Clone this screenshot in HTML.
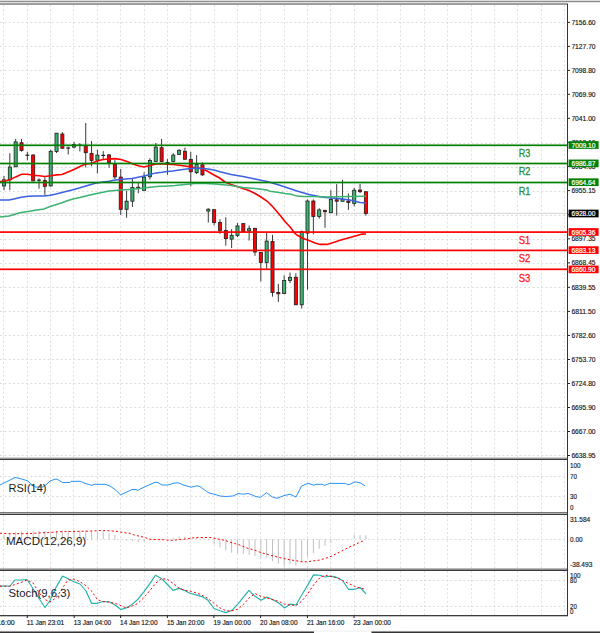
<!DOCTYPE html><html><head><meta charset="utf-8"><style>html,body{margin:0;padding:0;background:#fff;overflow:hidden}svg{display:block}text{font-family:"Liberation Sans", sans-serif}</style></head><body>
<svg width="600" height="633" viewBox="0 0 600 633">
<rect x="0" y="0" width="600" height="633" fill="#ffffff"/>
<rect x="0" y="0" width="600" height="1" fill="#dedede"/>
<rect x="0" y="1" width="600" height="1" fill="#8c8c8c"/>
<rect x="0" y="2" width="600" height="1" fill="#e4e4e4"/>
<rect x="0" y="3" width="568" height="2" fill="#9e9e9e"/>
<path d="M3.50 5.0V457.0 M3.50 460.0V512.0 M3.50 515.0V568.0 M3.50 571.0V615.0 M27.50 5.0V457.0 M27.50 460.0V512.0 M27.50 515.0V568.0 M27.50 571.0V615.0 M50.50 5.0V457.0 M50.50 460.0V512.0 M50.50 515.0V568.0 M50.50 571.0V615.0 M73.50 5.0V457.0 M73.50 460.0V512.0 M73.50 515.0V568.0 M73.50 571.0V615.0 M97.50 5.0V457.0 M97.50 460.0V512.0 M97.50 515.0V568.0 M97.50 571.0V615.0 M120.50 5.0V457.0 M120.50 460.0V512.0 M120.50 515.0V568.0 M120.50 571.0V615.0 M144.50 5.0V457.0 M144.50 460.0V512.0 M144.50 515.0V568.0 M144.50 571.0V615.0 M167.50 5.0V457.0 M167.50 460.0V512.0 M167.50 515.0V568.0 M167.50 571.0V615.0 M190.50 5.0V457.0 M190.50 460.0V512.0 M190.50 515.0V568.0 M190.50 571.0V615.0 M214.50 5.0V457.0 M214.50 460.0V512.0 M214.50 515.0V568.0 M214.50 571.0V615.0 M237.50 5.0V457.0 M237.50 460.0V512.0 M237.50 515.0V568.0 M237.50 571.0V615.0 M260.50 5.0V457.0 M260.50 460.0V512.0 M260.50 515.0V568.0 M260.50 571.0V615.0 M284.50 5.0V457.0 M284.50 460.0V512.0 M284.50 515.0V568.0 M284.50 571.0V615.0 M307.50 5.0V457.0 M307.50 460.0V512.0 M307.50 515.0V568.0 M307.50 571.0V615.0 M330.50 5.0V457.0 M330.50 460.0V512.0 M330.50 515.0V568.0 M330.50 571.0V615.0 M354.50 5.0V457.0 M354.50 460.0V512.0 M354.50 515.0V568.0 M354.50 571.0V615.0 M377.50 5.0V457.0 M377.50 460.0V512.0 M377.50 515.0V568.0 M377.50 571.0V615.0 M400.50 5.0V457.0 M400.50 460.0V512.0 M400.50 515.0V568.0 M400.50 571.0V615.0 M424.50 5.0V457.0 M424.50 460.0V512.0 M424.50 515.0V568.0 M424.50 571.0V615.0 M447.50 5.0V457.0 M447.50 460.0V512.0 M447.50 515.0V568.0 M447.50 571.0V615.0 M471.50 5.0V457.0 M471.50 460.0V512.0 M471.50 515.0V568.0 M471.50 571.0V615.0 M494.50 5.0V457.0 M494.50 460.0V512.0 M494.50 515.0V568.0 M494.50 571.0V615.0 M517.50 5.0V457.0 M517.50 460.0V512.0 M517.50 515.0V568.0 M517.50 571.0V615.0 M541.50 5.0V457.0 M541.50 460.0V512.0 M541.50 515.0V568.0 M541.50 571.0V615.0 M564.50 5.0V457.0 M564.50 460.0V512.0 M564.50 515.0V568.0 M564.50 571.0V615.0" stroke="#e0e0e0" stroke-width="1" stroke-dasharray="2 2.25" fill="none"/>
<path d="M0 22.50H567 M0 46.50H567 M0 70.50H567 M0 94.50H567 M0 118.50H567 M0 143.50H567 M0 167.50H567 M0 191.50H567 M0 215.50H567 M0 239.50H567 M0 263.50H567 M0 287.50H567 M0 311.50H567 M0 335.50H567 M0 359.50H567 M0 383.50H567 M0 407.50H567 M0 431.50H567 M0 455.50H567 M0 476.50H567 M0 496.50H567 M0 539.50H567 M0 580.50H567 M0 606.50H567" stroke="#dcdcdc" stroke-width="1" stroke-dasharray="2 2.33" fill="none"/>
<rect x="0" y="212.8" width="567" height="1.1" fill="#d8d8d8"/>
<line x1="4.00" y1="176.00" x2="4.00" y2="190.20" stroke="#3a3a3a" stroke-width="1"/>
<rect x="2.45" y="179.80" width="3.1" height="6.20" fill="#3cb371" stroke="#1e1e1e" stroke-width="0.8"/>
<line x1="9.84" y1="153.30" x2="9.84" y2="190.20" stroke="#3a3a3a" stroke-width="1"/>
<rect x="8.29" y="167.00" width="3.1" height="12.80" fill="#3cb371" stroke="#1e1e1e" stroke-width="0.8"/>
<line x1="15.67" y1="138.90" x2="15.67" y2="167.00" stroke="#3a3a3a" stroke-width="1"/>
<rect x="14.12" y="141.90" width="3.1" height="24.90" fill="#3cb371" stroke="#1e1e1e" stroke-width="0.8"/>
<line x1="21.51" y1="138.90" x2="21.51" y2="151.60" stroke="#3a3a3a" stroke-width="1"/>
<rect x="19.96" y="142.70" width="3.1" height="7.80" fill="#ff0000" stroke="#1e1e1e" stroke-width="0.8"/>
<line x1="27.35" y1="151.80" x2="27.35" y2="160.40" stroke="#3a3a3a" stroke-width="1"/>
<line x1="25.45" y1="155.20" x2="29.25" y2="155.20" stroke="#1a1a1a" stroke-width="1.2"/>
<line x1="33.19" y1="154.40" x2="33.19" y2="181.20" stroke="#3a3a3a" stroke-width="1"/>
<rect x="31.64" y="155.00" width="3.1" height="25.90" fill="#ff0000" stroke="#1e1e1e" stroke-width="0.8"/>
<line x1="39.02" y1="178.30" x2="39.02" y2="188.70" stroke="#3a3a3a" stroke-width="1"/>
<line x1="37.12" y1="180.20" x2="40.92" y2="180.20" stroke="#1a1a1a" stroke-width="1.2"/>
<line x1="44.86" y1="177.30" x2="44.86" y2="194.90" stroke="#3a3a3a" stroke-width="1"/>
<rect x="43.31" y="180.60" width="3.1" height="5.70" fill="#ff0000" stroke="#1e1e1e" stroke-width="0.8"/>
<line x1="50.70" y1="149.80" x2="50.70" y2="186.50" stroke="#3a3a3a" stroke-width="1"/>
<rect x="49.15" y="151.30" width="3.1" height="34.60" fill="#3cb371" stroke="#1e1e1e" stroke-width="0.8"/>
<line x1="56.53" y1="133.00" x2="56.53" y2="153.00" stroke="#3a3a3a" stroke-width="1"/>
<rect x="54.98" y="133.20" width="3.1" height="18.30" fill="#3cb371" stroke="#1e1e1e" stroke-width="0.8"/>
<line x1="62.37" y1="132.10" x2="62.37" y2="148.50" stroke="#3a3a3a" stroke-width="1"/>
<rect x="60.82" y="134.00" width="3.1" height="14.30" fill="#ff0000" stroke="#1e1e1e" stroke-width="0.8"/>
<line x1="68.21" y1="146.60" x2="68.21" y2="154.50" stroke="#3a3a3a" stroke-width="1"/>
<line x1="66.31" y1="148.00" x2="70.11" y2="148.00" stroke="#1a1a1a" stroke-width="1.2"/>
<line x1="74.04" y1="142.00" x2="74.04" y2="148.50" stroke="#3a3a3a" stroke-width="1"/>
<rect x="72.49" y="144.60" width="3.1" height="2.50" fill="#3cb371" stroke="#1e1e1e" stroke-width="0.8"/>
<line x1="79.88" y1="143.20" x2="79.88" y2="151.50" stroke="#3a3a3a" stroke-width="1"/>
<line x1="77.98" y1="145.20" x2="81.78" y2="145.20" stroke="#1a1a1a" stroke-width="1.2"/>
<line x1="85.72" y1="123.00" x2="85.72" y2="167.40" stroke="#3a3a3a" stroke-width="1"/>
<rect x="84.17" y="145.80" width="3.1" height="6.90" fill="#ff0000" stroke="#1e1e1e" stroke-width="0.8"/>
<line x1="91.55" y1="141.10" x2="91.55" y2="166.30" stroke="#3a3a3a" stroke-width="1"/>
<rect x="90.00" y="153.50" width="3.1" height="6.90" fill="#ff0000" stroke="#1e1e1e" stroke-width="0.8"/>
<line x1="97.39" y1="149.70" x2="97.39" y2="173.40" stroke="#3a3a3a" stroke-width="1"/>
<rect x="95.84" y="155.10" width="3.1" height="5.00" fill="#3cb371" stroke="#1e1e1e" stroke-width="0.8"/>
<line x1="103.23" y1="151.10" x2="103.23" y2="159.20" stroke="#3a3a3a" stroke-width="1"/>
<line x1="101.33" y1="155.40" x2="105.13" y2="155.40" stroke="#1a1a1a" stroke-width="1.2"/>
<line x1="109.07" y1="154.00" x2="109.07" y2="167.70" stroke="#3a3a3a" stroke-width="1"/>
<rect x="107.52" y="154.90" width="3.1" height="7.60" fill="#ff0000" stroke="#1e1e1e" stroke-width="0.8"/>
<line x1="114.90" y1="160.10" x2="114.90" y2="179.10" stroke="#3a3a3a" stroke-width="1"/>
<rect x="113.35" y="163.90" width="3.1" height="13.00" fill="#ff0000" stroke="#1e1e1e" stroke-width="0.8"/>
<line x1="120.74" y1="169.00" x2="120.74" y2="215.00" stroke="#3a3a3a" stroke-width="1"/>
<rect x="119.19" y="177.10" width="3.1" height="32.20" fill="#ff0000" stroke="#1e1e1e" stroke-width="0.8"/>
<line x1="126.58" y1="190.80" x2="126.58" y2="217.80" stroke="#3a3a3a" stroke-width="1"/>
<rect x="125.03" y="201.20" width="3.1" height="8.10" fill="#3cb371" stroke="#1e1e1e" stroke-width="0.8"/>
<line x1="132.41" y1="179.00" x2="132.41" y2="207.00" stroke="#3a3a3a" stroke-width="1"/>
<rect x="130.86" y="187.50" width="3.1" height="13.70" fill="#3cb371" stroke="#1e1e1e" stroke-width="0.8"/>
<line x1="138.25" y1="182.70" x2="138.25" y2="193.20" stroke="#3a3a3a" stroke-width="1"/>
<rect x="136.70" y="187.20" width="3.1" height="1.20" fill="#ff0000" stroke="#1e1e1e" stroke-width="0.8"/>
<line x1="144.09" y1="172.30" x2="144.09" y2="190.50" stroke="#3a3a3a" stroke-width="1"/>
<rect x="142.54" y="177.10" width="3.1" height="13.20" fill="#3cb371" stroke="#1e1e1e" stroke-width="0.8"/>
<line x1="149.92" y1="158.20" x2="149.92" y2="179.60" stroke="#3a3a3a" stroke-width="1"/>
<rect x="148.37" y="160.50" width="3.1" height="16.30" fill="#3cb371" stroke="#1e1e1e" stroke-width="0.8"/>
<line x1="155.76" y1="143.00" x2="155.76" y2="161.50" stroke="#3a3a3a" stroke-width="1"/>
<rect x="154.21" y="147.10" width="3.1" height="14.40" fill="#3cb371" stroke="#1e1e1e" stroke-width="0.8"/>
<line x1="161.60" y1="139.00" x2="161.60" y2="161.50" stroke="#3a3a3a" stroke-width="1"/>
<rect x="160.05" y="147.70" width="3.1" height="13.80" fill="#ff0000" stroke="#1e1e1e" stroke-width="0.8"/>
<line x1="167.44" y1="159.10" x2="167.44" y2="174.80" stroke="#3a3a3a" stroke-width="1"/>
<line x1="165.54" y1="162.70" x2="169.34" y2="162.70" stroke="#1a1a1a" stroke-width="1.2"/>
<line x1="173.27" y1="153.20" x2="173.27" y2="162.40" stroke="#3a3a3a" stroke-width="1"/>
<rect x="171.72" y="155.10" width="3.1" height="6.40" fill="#3cb371" stroke="#1e1e1e" stroke-width="0.8"/>
<line x1="179.11" y1="149.20" x2="179.11" y2="155.10" stroke="#3a3a3a" stroke-width="1"/>
<rect x="177.56" y="150.30" width="3.1" height="4.00" fill="#3cb371" stroke="#1e1e1e" stroke-width="0.8"/>
<line x1="184.95" y1="147.60" x2="184.95" y2="159.30" stroke="#3a3a3a" stroke-width="1"/>
<rect x="183.40" y="151.30" width="3.1" height="8.00" fill="#ff0000" stroke="#1e1e1e" stroke-width="0.8"/>
<line x1="190.78" y1="151.80" x2="190.78" y2="186.40" stroke="#3a3a3a" stroke-width="1"/>
<rect x="189.23" y="159.40" width="3.1" height="12.40" fill="#ff0000" stroke="#1e1e1e" stroke-width="0.8"/>
<line x1="196.62" y1="155.20" x2="196.62" y2="174.10" stroke="#3a3a3a" stroke-width="1"/>
<rect x="195.07" y="164.60" width="3.1" height="8.10" fill="#3cb371" stroke="#1e1e1e" stroke-width="0.8"/>
<line x1="202.46" y1="162.30" x2="202.46" y2="175.80" stroke="#3a3a3a" stroke-width="1"/>
<rect x="200.91" y="164.80" width="3.1" height="10.10" fill="#ff0000" stroke="#1e1e1e" stroke-width="0.8"/>
<line x1="208.29" y1="208.30" x2="208.29" y2="222.50" stroke="#3a3a3a" stroke-width="1"/>
<rect x="206.74" y="209.20" width="3.1" height="1.90" fill="#3cb371" stroke="#1e1e1e" stroke-width="0.8"/>
<line x1="214.13" y1="209.50" x2="214.13" y2="225.30" stroke="#3a3a3a" stroke-width="1"/>
<rect x="212.58" y="209.70" width="3.1" height="12.80" fill="#ff0000" stroke="#1e1e1e" stroke-width="0.8"/>
<line x1="219.97" y1="219.20" x2="219.97" y2="233.90" stroke="#3a3a3a" stroke-width="1"/>
<rect x="218.42" y="222.50" width="3.1" height="8.00" fill="#ff0000" stroke="#1e1e1e" stroke-width="0.8"/>
<line x1="225.81" y1="217.30" x2="225.81" y2="245.70" stroke="#3a3a3a" stroke-width="1"/>
<rect x="224.26" y="230.50" width="3.1" height="8.10" fill="#ff0000" stroke="#1e1e1e" stroke-width="0.8"/>
<line x1="231.64" y1="229.10" x2="231.64" y2="248.10" stroke="#3a3a3a" stroke-width="1"/>
<rect x="230.09" y="235.30" width="3.1" height="3.80" fill="#3cb371" stroke="#1e1e1e" stroke-width="0.8"/>
<line x1="237.48" y1="223.00" x2="237.48" y2="237.10" stroke="#3a3a3a" stroke-width="1"/>
<rect x="235.93" y="225.90" width="3.1" height="9.70" fill="#3cb371" stroke="#1e1e1e" stroke-width="0.8"/>
<line x1="243.32" y1="223.50" x2="243.32" y2="231.70" stroke="#3a3a3a" stroke-width="1"/>
<rect x="241.77" y="223.60" width="3.1" height="8.00" fill="#ff0000" stroke="#1e1e1e" stroke-width="0.8"/>
<line x1="249.15" y1="225.40" x2="249.15" y2="240.60" stroke="#3a3a3a" stroke-width="1"/>
<rect x="247.60" y="228.70" width="3.1" height="2.20" fill="#3cb371" stroke="#1e1e1e" stroke-width="0.8"/>
<line x1="254.99" y1="228.00" x2="254.99" y2="255.80" stroke="#3a3a3a" stroke-width="1"/>
<rect x="253.44" y="228.30" width="3.1" height="23.70" fill="#ff0000" stroke="#1e1e1e" stroke-width="0.8"/>
<line x1="260.83" y1="252.30" x2="260.83" y2="281.50" stroke="#3a3a3a" stroke-width="1"/>
<rect x="259.28" y="252.40" width="3.1" height="10.10" fill="#ff0000" stroke="#1e1e1e" stroke-width="0.8"/>
<line x1="266.66" y1="232.50" x2="266.66" y2="268.60" stroke="#3a3a3a" stroke-width="1"/>
<rect x="265.11" y="241.10" width="3.1" height="21.40" fill="#3cb371" stroke="#1e1e1e" stroke-width="0.8"/>
<line x1="272.50" y1="234.90" x2="272.50" y2="296.70" stroke="#3a3a3a" stroke-width="1"/>
<rect x="270.95" y="241.50" width="3.1" height="50.90" fill="#ff0000" stroke="#1e1e1e" stroke-width="0.8"/>
<line x1="278.34" y1="283.90" x2="278.34" y2="301.90" stroke="#3a3a3a" stroke-width="1"/>
<rect x="276.79" y="292.40" width="3.1" height="1.40" fill="#ff0000" stroke="#1e1e1e" stroke-width="0.8"/>
<line x1="284.18" y1="275.30" x2="284.18" y2="293.80" stroke="#3a3a3a" stroke-width="1"/>
<rect x="282.63" y="280.50" width="3.1" height="13.10" fill="#3cb371" stroke="#1e1e1e" stroke-width="0.8"/>
<line x1="290.01" y1="272.50" x2="290.01" y2="283.00" stroke="#3a3a3a" stroke-width="1"/>
<rect x="288.46" y="277.30" width="3.1" height="3.30" fill="#3cb371" stroke="#1e1e1e" stroke-width="0.8"/>
<line x1="295.85" y1="273.30" x2="295.85" y2="304.80" stroke="#3a3a3a" stroke-width="1"/>
<rect x="294.30" y="277.30" width="3.1" height="27.50" fill="#ff0000" stroke="#1e1e1e" stroke-width="0.8"/>
<line x1="301.69" y1="230.50" x2="301.69" y2="308.60" stroke="#3a3a3a" stroke-width="1"/>
<rect x="300.14" y="231.80" width="3.1" height="73.00" fill="#3cb371" stroke="#1e1e1e" stroke-width="0.8"/>
<line x1="307.52" y1="199.40" x2="307.52" y2="289.60" stroke="#3a3a3a" stroke-width="1"/>
<rect x="305.97" y="201.00" width="3.1" height="32.10" fill="#3cb371" stroke="#1e1e1e" stroke-width="0.8"/>
<line x1="313.36" y1="199.40" x2="313.36" y2="234.20" stroke="#3a3a3a" stroke-width="1"/>
<rect x="311.81" y="201.00" width="3.1" height="15.50" fill="#ff0000" stroke="#1e1e1e" stroke-width="0.8"/>
<line x1="319.20" y1="208.20" x2="319.20" y2="218.70" stroke="#3a3a3a" stroke-width="1"/>
<rect x="317.65" y="209.90" width="3.1" height="6.60" fill="#3cb371" stroke="#1e1e1e" stroke-width="0.8"/>
<line x1="325.03" y1="209.90" x2="325.03" y2="227.80" stroke="#3a3a3a" stroke-width="1"/>
<rect x="323.48" y="210.30" width="3.1" height="1.40" fill="#ff0000" stroke="#1e1e1e" stroke-width="0.8"/>
<line x1="330.87" y1="190.20" x2="330.87" y2="212.70" stroke="#3a3a3a" stroke-width="1"/>
<rect x="329.32" y="199.40" width="3.1" height="13.30" fill="#3cb371" stroke="#1e1e1e" stroke-width="0.8"/>
<line x1="336.71" y1="184.10" x2="336.71" y2="215.60" stroke="#3a3a3a" stroke-width="1"/>
<rect x="335.16" y="199.80" width="3.1" height="1.40" fill="#ff0000" stroke="#1e1e1e" stroke-width="0.8"/>
<line x1="342.55" y1="179.80" x2="342.55" y2="201.40" stroke="#3a3a3a" stroke-width="1"/>
<rect x="341.00" y="199.30" width="3.1" height="2.00" fill="#3cb371" stroke="#1e1e1e" stroke-width="0.8"/>
<line x1="348.38" y1="193.50" x2="348.38" y2="209.90" stroke="#3a3a3a" stroke-width="1"/>
<rect x="346.83" y="201.00" width="3.1" height="1.50" fill="#ff0000" stroke="#1e1e1e" stroke-width="0.8"/>
<line x1="354.22" y1="187.80" x2="354.22" y2="206.30" stroke="#3a3a3a" stroke-width="1"/>
<rect x="352.67" y="190.20" width="3.1" height="13.20" fill="#3cb371" stroke="#1e1e1e" stroke-width="0.8"/>
<line x1="360.06" y1="183.90" x2="360.06" y2="193.10" stroke="#3a3a3a" stroke-width="1"/>
<rect x="358.51" y="190.00" width="3.1" height="1.70" fill="#ff0000" stroke="#1e1e1e" stroke-width="0.8"/>
<line x1="365.89" y1="191.50" x2="365.89" y2="215.60" stroke="#3a3a3a" stroke-width="1"/>
<rect x="364.34" y="191.70" width="3.1" height="21.70" fill="#ff0000" stroke="#1e1e1e" stroke-width="0.8"/>
<polyline points="0.00,181.50 4.00,181.30 9.80,179.80 15.70,176.90 21.50,174.30 27.30,174.20 33.20,175.20 39.00,175.80 44.90,176.50 50.70,175.80 56.50,174.90 62.00,174.50 68.00,172.00 74.00,169.50 80.00,166.50 85.00,164.20 91.00,163.40 97.00,161.00 103.00,159.50 109.00,159.00 115.00,158.60 121.00,159.50 127.00,161.50 133.00,164.00 139.00,166.00 144.00,167.00 150.00,165.50 156.00,164.00 162.00,163.60 167.00,164.10 173.00,164.50 179.00,165.20 185.00,166.00 191.00,167.00 197.00,168.00 202.00,168.60 208.00,171.50 214.00,175.00 220.00,178.30 225.00,182.00 231.00,184.50 237.00,186.50 243.00,188.50 249.00,190.50 255.00,193.50 261.00,197.00 267.00,201.00 273.00,207.00 279.00,214.00 285.00,221.50 291.00,228.00 294.00,232.50 297.00,235.00 303.00,238.50 309.00,240.50 315.00,243.00 320.00,244.40 327.00,244.40 335.00,242.00 340.00,240.20 350.00,237.50 357.00,235.50 362.00,234.10 366.00,234.00" fill="none" stroke="#ff0000" stroke-width="1.6" stroke-linejoin="miter"/>
<polyline points="0.00,200.00 9.00,200.00 15.00,198.80 21.00,197.20 28.00,196.20 35.00,196.00 44.00,196.00 50.00,195.20 55.00,194.20 62.00,192.50 68.00,191.00 74.00,189.50 80.00,187.80 85.00,186.20 91.00,184.50 97.00,182.90 103.00,182.00 109.00,181.20 115.00,180.10 120.00,179.50 132.00,178.40 144.00,176.00 150.00,174.50 156.00,172.90 162.00,172.30 167.00,171.50 173.00,171.00 179.00,170.00 185.00,169.20 191.00,168.50 197.00,168.00 202.00,168.40 208.00,169.00 214.00,170.00 220.00,171.70 231.00,174.50 243.00,176.50 255.00,179.00 267.00,181.50 273.00,183.30 279.00,185.00 285.00,187.00 291.00,189.00 297.00,191.00 303.00,192.80 309.00,194.50 314.00,195.50 320.00,196.80 326.00,197.60 340.00,198.70 350.00,200.10 360.00,202.40 366.00,202.90" fill="none" stroke="#3a62e0" stroke-width="1.5" stroke-linejoin="miter"/>
<polyline points="0.00,217.00 9.00,216.00 15.00,214.20 21.00,212.50 28.00,211.50 35.00,210.20 44.00,209.00 50.00,206.50 55.00,205.00 62.00,202.80 68.00,200.50 74.00,198.80 80.00,197.50 85.00,196.20 91.00,194.80 97.00,193.50 103.00,192.20 109.00,191.00 115.00,190.50 120.00,190.10 130.00,189.40 140.00,188.60 150.00,187.30 160.00,186.30 165.00,186.30 175.00,185.50 185.00,184.40 195.00,183.50 205.00,183.50 215.00,184.00 220.00,184.50 231.00,185.50 243.00,187.40 255.00,188.50 267.00,190.00 270.00,191.20 279.00,192.50 285.00,193.50 291.00,194.30 297.00,196.10 303.00,196.50 315.00,196.50 326.00,196.90 350.00,196.60 366.00,196.30" fill="none" stroke="#3cb371" stroke-width="1.5" stroke-linejoin="miter"/>
<rect x="0" y="144.45" width="567" height="1.7" fill="#008000"/>
<rect x="0" y="162.65" width="567" height="1.7" fill="#008000"/>
<rect x="0" y="181.65" width="567" height="1.7" fill="#008000"/>
<rect x="0" y="231.25" width="567" height="1.7" fill="#ff0000"/>
<rect x="0" y="249.55" width="567" height="1.7" fill="#ff0000"/>
<rect x="0" y="268.45" width="567" height="1.7" fill="#ff0000"/>
<text x="518.8" y="157.30" font-size="11" fill="#1f8f36" stroke="#1f8f36" stroke-width="0.3" textLength="11.6" lengthAdjust="spacingAndGlyphs">R3</text>
<text x="518.8" y="174.50" font-size="11" fill="#1f8f36" stroke="#1f8f36" stroke-width="0.3" textLength="11.6" lengthAdjust="spacingAndGlyphs">R2</text>
<text x="518.8" y="195.00" font-size="11" fill="#1f8f36" stroke="#1f8f36" stroke-width="0.3" textLength="11.6" lengthAdjust="spacingAndGlyphs">R1</text>
<text x="518.8" y="244.30" font-size="11" fill="#ff2020" stroke="#ff2020" stroke-width="0.3" textLength="11.6" lengthAdjust="spacingAndGlyphs">S1</text>
<text x="518.8" y="262.30" font-size="11" fill="#ff2020" stroke="#ff2020" stroke-width="0.3" textLength="11.6" lengthAdjust="spacingAndGlyphs">S2</text>
<text x="518.8" y="281.50" font-size="11" fill="#ff2020" stroke="#ff2020" stroke-width="0.3" textLength="11.6" lengthAdjust="spacingAndGlyphs">S3</text>
<rect x="0" y="457" width="568" height="1" fill="#d0d0d0"/>
<rect x="0" y="458" width="568" height="1" fill="#999999"/>
<rect x="0" y="459" width="568" height="1" fill="#3a3a3a"/>
<rect x="0" y="512" width="568" height="1" fill="#777777"/>
<rect x="0" y="513" width="568" height="1" fill="#b0b0b0"/>
<rect x="0" y="514" width="568" height="1" fill="#3a3a3a"/>
<rect x="0" y="568" width="568" height="1" fill="#bbbbbb"/>
<rect x="0" y="569" width="568" height="1" fill="#888888"/>
<rect x="0" y="570" width="568" height="1" fill="#3a3a3a"/>
<rect x="0" y="615" width="568" height="1.3" fill="#3c3c3c"/>
<rect x="567" y="4" width="1" height="612" fill="#333333"/>
<polyline points="0.00,485.00 5.00,482.50 10.00,480.00 15.00,477.50 18.00,478.00 25.00,480.00 28.00,481.00 31.00,484.00 35.00,487.00 43.00,487.00 47.00,484.00 50.00,481.00 55.00,479.20 57.00,479.20 62.50,482.50 70.00,482.50 71.00,481.30 80.50,481.30 85.00,483.40 92.00,485.40 94.00,484.30 105.00,484.30 110.00,486.00 115.00,489.50 120.50,494.80 126.00,492.40 132.00,489.50 136.00,489.50 137.50,490.40 144.00,487.20 148.00,485.40 155.00,482.30 158.00,482.50 162.00,485.00 168.00,485.00 173.00,483.40 178.00,482.70 183.00,484.80 191.00,487.20 197.00,485.80 200.00,486.60 204.00,489.50 209.00,493.00 215.00,494.40 220.00,496.00 226.00,496.50 233.00,496.00 238.00,493.60 244.00,494.20 248.00,493.40 252.00,494.80 255.00,496.30 260.50,497.40 266.50,492.70 272.50,497.10 277.00,498.30 284.00,495.60 290.00,494.20 296.00,497.10 301.50,486.00 308.00,483.40 314.00,485.20 316.00,484.30 322.00,484.30 324.50,485.40 330.00,483.40 345.50,483.40 347.50,484.60 350.00,484.30 353.00,482.70 355.00,481.90 360.00,482.70 365.00,485.80" fill="none" stroke="#2b93f8" stroke-width="1" stroke-linejoin="round"/>
<text x="8.5" y="492" font-size="11" fill="#1a1a1a" textLength="38" lengthAdjust="spacingAndGlyphs">RSI(14)</text>
<path d="M4.00 539.30V535.00 M9.84 539.30V533.00 M15.67 539.30V532.00 M21.51 539.30V531.30 M27.35 539.30V531.00 M33.19 539.30V531.00 M39.02 539.30V531.20 M44.86 539.30V531.20 M50.70 539.30V531.00 M56.53 539.30V530.80 M62.37 539.30V530.80 M68.21 539.30V530.50 M74.04 539.30V530.50 M79.88 539.30V530.50 M85.72 539.30V530.50 M91.55 539.30V530.80 M97.39 539.30V531.00 M103.23 539.30V531.70 M109.07 539.30V533.30 M114.90 539.30V535.00 M120.74 539.30V538.80 M126.58 539.30V540.70 M132.41 539.30V541.30 M138.25 539.30V542.00 M144.09 539.30V541.50 M149.92 539.30V540.30 M155.76 539.30V539.30 M161.60 539.30V539.30 M167.44 539.30V539.30 M173.27 539.30V537.50 M179.11 539.30V536.50 M184.95 539.30V536.50 M190.78 539.30V537.30 M196.62 539.30V537.80 M202.46 539.30V538.30 M208.29 539.30V540.30 M214.13 539.30V544.50 M219.97 539.30V547.40 M225.81 539.30V550.30 M231.64 539.30V552.70 M237.48 539.30V553.30 M243.32 539.30V553.80 M249.15 539.30V554.80 M254.99 539.30V556.00 M260.83 539.30V558.30 M266.66 539.30V557.70 M272.50 539.30V561.20 M278.34 539.30V563.50 M284.18 539.30V566.40 M290.01 539.30V564.10 M295.85 539.30V565.80 M301.69 539.30V561.80 M307.52 539.30V557.10 M313.36 539.30V553.00 M319.20 539.30V548.80 M325.03 539.30V545.70 M330.87 539.30V542.80 M336.71 539.30V540.40 M342.55 539.30V539.80 M348.38 539.30V539.80 M354.22 539.30V534.60 M360.06 539.30V535.20 M365.89 539.30V535.20" stroke="#c0c0c0" stroke-width="1" fill="none"/>
<polyline points="0.00,533.25 10.00,533.70 20.00,533.70 30.00,533.50 50.00,532.40 60.00,531.70 90.00,531.10 100.00,530.50 115.00,531.10 122.00,532.30 130.00,533.40 135.00,535.20 145.00,537.50 150.00,539.30 165.00,539.80 170.00,540.40 178.00,539.80 190.00,538.50 195.00,537.50 210.00,537.50 215.00,538.40 225.00,540.40 232.00,542.80 240.00,545.10 247.00,548.00 255.00,550.30 262.00,553.00 267.00,554.20 273.00,555.90 280.00,557.70 285.00,558.80 291.00,560.00 297.00,560.90 302.00,561.80 307.00,561.80 313.00,560.90 319.00,560.20 325.00,558.50 330.00,556.80 335.00,554.40 342.00,550.90 350.00,546.80 355.00,544.50 360.00,542.20 364.50,540.40" fill="none" stroke="#ff0000" stroke-width="1" stroke-dasharray="2 2.3"/>
<text x="6" y="545.3" font-size="11" fill="#1a1a1a" textLength="80.2" lengthAdjust="spacingAndGlyphs">MACD(12,26,9)</text>
<polyline points="0.00,586.20 10.00,586.00 15.00,580.00 21.00,580.00 27.00,579.50 33.00,588.50 39.00,598.50 45.00,607.50 50.00,600.50 56.00,587.50 62.50,576.10 68.00,578.80 74.00,581.70 80.00,584.00 86.00,591.00 91.50,603.30 97.50,603.30 103.00,601.50 109.00,601.70 115.00,605.00 121.00,609.50 126.00,607.90 132.00,604.40 138.00,599.20 144.00,591.60 150.00,583.40 155.50,575.30 161.00,578.20 167.00,584.00 173.00,590.40 179.00,588.40 184.50,590.40 190.00,593.30 197.00,595.10 202.00,596.60 208.00,600.30 214.00,608.50 220.00,610.80 226.00,612.60 232.00,610.30 238.00,603.80 244.00,596.30 249.00,590.40 255.00,596.30 261.00,600.30 267.00,597.10 273.00,599.80 279.00,603.30 284.50,607.90 290.50,604.10 296.00,605.00 302.00,594.50 308.00,584.60 313.50,574.90 320.00,575.30 325.00,577.00 331.00,576.10 337.00,577.60 342.50,580.50 348.50,589.30 354.50,589.30 360.00,587.50 366.00,593.90" fill="none" stroke="#20b2aa" stroke-width="1.15" stroke-linejoin="round"/>
<polyline points="0.00,586.20 10.00,586.20 15.00,584.50 21.00,582.50 27.00,580.00 33.00,583.00 39.00,592.50 45.00,599.50 50.00,602.00 56.00,598.00 62.00,588.70 68.00,580.00 74.00,579.10 80.00,581.70 86.00,585.80 92.00,591.60 97.50,599.80 103.00,601.50 109.00,602.10 115.00,603.30 121.00,605.60 126.00,607.90 132.00,606.20 138.00,603.30 144.00,597.40 150.00,590.40 155.50,583.40 161.00,578.80 167.00,579.10 173.00,583.40 179.00,588.10 185.00,590.40 190.00,591.00 197.00,593.10 202.00,595.10 208.00,598.60 214.00,603.30 220.00,607.90 226.00,610.80 232.00,610.80 238.00,609.10 244.00,603.80 249.00,598.00 255.00,593.60 261.00,596.30 267.00,598.00 273.00,599.80 279.00,601.50 284.50,604.10 290.50,605.00 296.00,605.60 302.00,600.90 308.00,593.30 313.50,585.20 320.00,577.60 325.00,575.30 331.00,576.40 337.00,577.60 342.50,580.50 348.50,583.40 354.50,586.30 360.00,588.10 366.00,589.30" fill="none" stroke="#ff0000" stroke-width="1" stroke-dasharray="2 2.3"/>
<text x="8.5" y="597" font-size="11" fill="#1a1a1a" textLength="61.7" lengthAdjust="spacingAndGlyphs">Stoch(9,6,3)</text>
<text x="571.4" y="24.90" font-size="7" fill="#141414" stroke="#141414" stroke-width="0.15" textLength="24.2" lengthAdjust="spacingAndGlyphs">7156.60</text>
<text x="571.4" y="48.90" font-size="7" fill="#141414" stroke="#141414" stroke-width="0.15" textLength="24.2" lengthAdjust="spacingAndGlyphs">7127.70</text>
<text x="571.4" y="72.90" font-size="7" fill="#141414" stroke="#141414" stroke-width="0.15" textLength="24.2" lengthAdjust="spacingAndGlyphs">7098.80</text>
<text x="571.4" y="96.80" font-size="7" fill="#141414" stroke="#141414" stroke-width="0.15" textLength="24.2" lengthAdjust="spacingAndGlyphs">7069.90</text>
<text x="571.4" y="120.80" font-size="7" fill="#141414" stroke="#141414" stroke-width="0.15" textLength="24.2" lengthAdjust="spacingAndGlyphs">7041.00</text>
<text x="571.4" y="144.90" font-size="7" fill="#141414" stroke="#141414" stroke-width="0.15" textLength="24.2" lengthAdjust="spacingAndGlyphs">7012.10</text>
<text x="571.4" y="169.00" font-size="7" fill="#141414" stroke="#141414" stroke-width="0.15" textLength="24.2" lengthAdjust="spacingAndGlyphs">6984.05</text>
<text x="571.4" y="193.10" font-size="7" fill="#141414" stroke="#141414" stroke-width="0.15" textLength="24.2" lengthAdjust="spacingAndGlyphs">6955.15</text>
<text x="571.4" y="241.30" font-size="7" fill="#141414" stroke="#141414" stroke-width="0.15" textLength="24.2" lengthAdjust="spacingAndGlyphs">6897.35</text>
<text x="571.4" y="265.40" font-size="7" fill="#141414" stroke="#141414" stroke-width="0.15" textLength="24.2" lengthAdjust="spacingAndGlyphs">6868.45</text>
<text x="571.4" y="289.80" font-size="7" fill="#141414" stroke="#141414" stroke-width="0.15" textLength="24.2" lengthAdjust="spacingAndGlyphs">6839.55</text>
<text x="571.4" y="313.90" font-size="7" fill="#141414" stroke="#141414" stroke-width="0.15" textLength="24.2" lengthAdjust="spacingAndGlyphs">6811.50</text>
<text x="571.4" y="337.90" font-size="7" fill="#141414" stroke="#141414" stroke-width="0.15" textLength="24.2" lengthAdjust="spacingAndGlyphs">6782.60</text>
<text x="571.4" y="362.00" font-size="7" fill="#141414" stroke="#141414" stroke-width="0.15" textLength="24.2" lengthAdjust="spacingAndGlyphs">6753.70</text>
<text x="571.4" y="386.00" font-size="7" fill="#141414" stroke="#141414" stroke-width="0.15" textLength="24.2" lengthAdjust="spacingAndGlyphs">6724.80</text>
<text x="571.4" y="410.00" font-size="7" fill="#141414" stroke="#141414" stroke-width="0.15" textLength="24.2" lengthAdjust="spacingAndGlyphs">6695.90</text>
<text x="571.4" y="434.00" font-size="7" fill="#141414" stroke="#141414" stroke-width="0.15" textLength="24.2" lengthAdjust="spacingAndGlyphs">6667.00</text>
<text x="571.4" y="458.00" font-size="7" fill="#141414" stroke="#141414" stroke-width="0.15" textLength="24.2" lengthAdjust="spacingAndGlyphs">6638.95</text>
<text x="570.1" y="467.50" font-size="7" fill="#141414" stroke="#141414" stroke-width="0.15" textLength="10.5" lengthAdjust="spacingAndGlyphs">100</text>
<text x="570.1" y="479.10" font-size="7" fill="#141414" stroke="#141414" stroke-width="0.15" textLength="7.0" lengthAdjust="spacingAndGlyphs">70</text>
<text x="570.1" y="499.10" font-size="7" fill="#141414" stroke="#141414" stroke-width="0.15" textLength="7.0" lengthAdjust="spacingAndGlyphs">30</text>
<text x="570.1" y="510.30" font-size="7" fill="#141414" stroke="#141414" stroke-width="0.15" textLength="3.5" lengthAdjust="spacingAndGlyphs">0</text>
<text x="570.1" y="522.40" font-size="7" fill="#141414" stroke="#141414" stroke-width="0.15" textLength="20.2" lengthAdjust="spacingAndGlyphs">31.584</text>
<text x="570.1" y="541.90" font-size="7" fill="#141414" stroke="#141414" stroke-width="0.15" textLength="12.5" lengthAdjust="spacingAndGlyphs">0.00</text>
<text x="570.1" y="566.50" font-size="7" fill="#141414" stroke="#141414" stroke-width="0.15" textLength="22.2" lengthAdjust="spacingAndGlyphs">-38.493</text>
<text x="570.1" y="578.30" font-size="7" fill="#141414" stroke="#141414" stroke-width="0.15" textLength="10.5" lengthAdjust="spacingAndGlyphs">100</text>
<text x="570.1" y="582.70" font-size="7" fill="#141414" stroke="#141414" stroke-width="0.15" textLength="6.6" lengthAdjust="spacingAndGlyphs">80</text>
<text x="570.1" y="608.50" font-size="7" fill="#141414" stroke="#141414" stroke-width="0.15" textLength="6.8" lengthAdjust="spacingAndGlyphs">20</text>
<text x="570.1" y="613.50" font-size="7" fill="#141414" stroke="#141414" stroke-width="0.15" textLength="3.5" lengthAdjust="spacingAndGlyphs">0</text>
<path d="M568 22.40H570 M568 46.40H570 M568 70.40H570 M568 94.30H570 M568 118.30H570 M568 142.40H570 M568 166.50H570 M568 190.60H570 M568 214.70H570 M568 238.80H570 M568 262.90H570 M568 287.30H570 M568 311.40H570 M568 335.40H570 M568 359.50H570 M568 383.50H570 M568 407.50H570 M568 431.50H570 M568 455.50H570" stroke="#222" stroke-width="1" fill="none"/>
<rect x="568.6" y="141.15" width="30" height="7.7" fill="#008000"/>
<text x="571.5" y="147.50" font-size="7" fill="#ffffff" stroke="#ffffff" stroke-width="0.2" textLength="24" lengthAdjust="spacingAndGlyphs">7009.10</text>
<rect x="568.6" y="159.55" width="30" height="7.7" fill="#008000"/>
<text x="571.5" y="165.90" font-size="7" fill="#ffffff" stroke="#ffffff" stroke-width="0.2" textLength="24" lengthAdjust="spacingAndGlyphs">6986.87</text>
<rect x="568.6" y="178.35" width="30" height="7.7" fill="#008000"/>
<text x="571.5" y="184.70" font-size="7" fill="#ffffff" stroke="#ffffff" stroke-width="0.2" textLength="24" lengthAdjust="spacingAndGlyphs">6964.64</text>
<rect x="568.6" y="209.65" width="30" height="7.7" fill="#000000"/>
<text x="571.5" y="216.00" font-size="7" fill="#ffffff" stroke="#ffffff" stroke-width="0.2" textLength="24" lengthAdjust="spacingAndGlyphs">6928.00</text>
<rect x="568.6" y="228.15" width="30" height="7.7" fill="#ff0000"/>
<text x="571.5" y="234.50" font-size="7" fill="#ffffff" stroke="#ffffff" stroke-width="0.2" textLength="24" lengthAdjust="spacingAndGlyphs">6905.36</text>
<rect x="568.6" y="246.25" width="30" height="7.7" fill="#ff0000"/>
<text x="571.5" y="252.60" font-size="7" fill="#ffffff" stroke="#ffffff" stroke-width="0.2" textLength="24" lengthAdjust="spacingAndGlyphs">6883.13</text>
<rect x="568.6" y="265.55" width="30" height="7.7" fill="#ff0000"/>
<text x="571.5" y="271.90" font-size="7" fill="#ffffff" stroke="#ffffff" stroke-width="0.2" textLength="24" lengthAdjust="spacingAndGlyphs">6860.90</text>
<text x="26.80" y="624.9" font-size="7" fill="#141414" stroke="#141414" stroke-width="0.15" textLength="37.4" lengthAdjust="spacingAndGlyphs">11 Jan 23:01</text>
<text x="73.70" y="624.9" font-size="7" fill="#141414" stroke="#141414" stroke-width="0.15" textLength="37.4" lengthAdjust="spacingAndGlyphs">13 Jan 04:00</text>
<text x="120.10" y="624.9" font-size="7" fill="#141414" stroke="#141414" stroke-width="0.15" textLength="37.4" lengthAdjust="spacingAndGlyphs">14 Jan 12:00</text>
<text x="166.90" y="624.9" font-size="7" fill="#141414" stroke="#141414" stroke-width="0.15" textLength="37.4" lengthAdjust="spacingAndGlyphs">15 Jan 20:00</text>
<text x="213.40" y="624.9" font-size="7" fill="#141414" stroke="#141414" stroke-width="0.15" textLength="37.4" lengthAdjust="spacingAndGlyphs">19 Jan 00:00</text>
<text x="260.10" y="624.9" font-size="7" fill="#141414" stroke="#141414" stroke-width="0.15" textLength="37.4" lengthAdjust="spacingAndGlyphs">20 Jan 08:00</text>
<text x="306.90" y="624.9" font-size="7" fill="#141414" stroke="#141414" stroke-width="0.15" textLength="37.4" lengthAdjust="spacingAndGlyphs">21 Jan 16:00</text>
<text x="353.50" y="624.9" font-size="7" fill="#141414" stroke="#141414" stroke-width="0.15" textLength="37.4" lengthAdjust="spacingAndGlyphs">23 Jan 00:00</text>
<text x="14.75" y="624.9" font-size="7" fill="#141414" stroke="#141414" stroke-width="0.15" text-anchor="end">16:00</text>
<path d="M27.30 615.5V618 M74.20 615.5V618 M120.60 615.5V618 M167.40 615.5V618 M213.90 615.5V618 M260.60 615.5V618 M307.40 615.5V618 M354.00 615.5V618" stroke="#222" stroke-width="1" fill="none"/>
<rect x="0" y="630.6" width="600" height="1" fill="#eeeeee"/>
<rect x="0" y="631.5" width="314" height="1.5" fill="#333333"/>
<rect x="371.5" y="631.5" width="228.5" height="1.5" fill="#333333"/>
</svg></body></html>
